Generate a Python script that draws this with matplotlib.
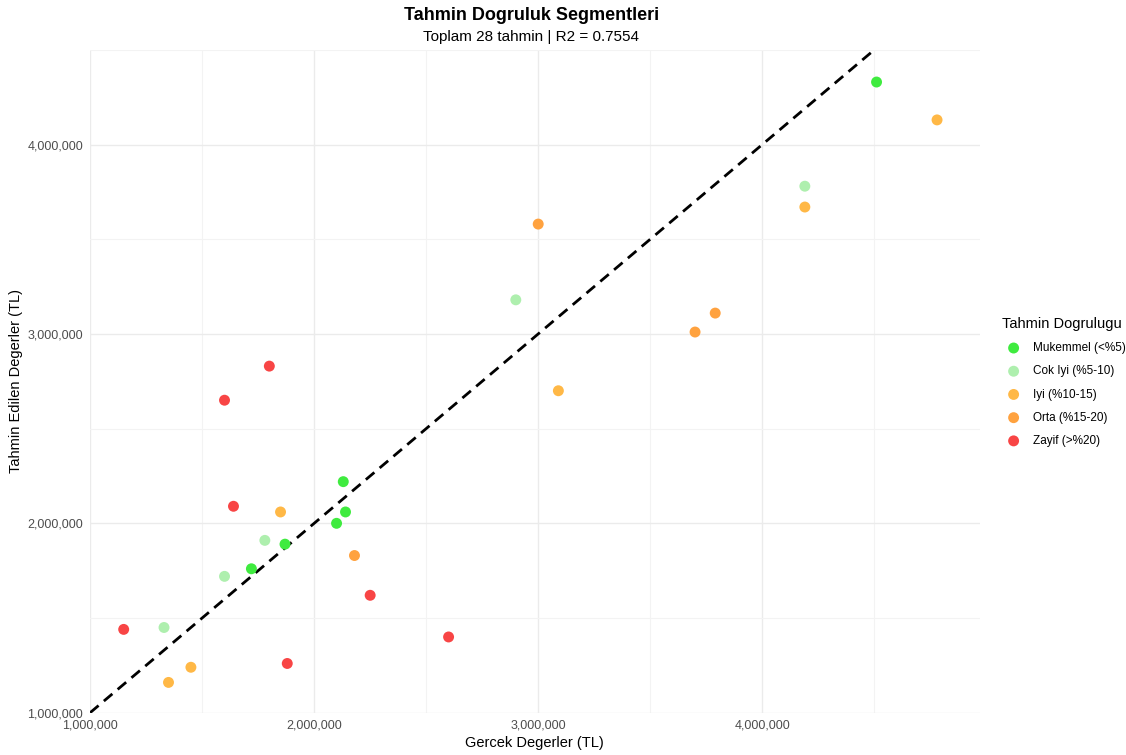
import matplotlib.pyplot as plt
from matplotlib.ticker import FuncFormatter, MultipleLocator

plt.rcParams['font.family'] = ['Liberation Sans', 'DejaVu Sans']

# gercek (x) ve tahmin (y) degerleri, segmentlere gore
mukemmel_x = [4510000, 2130000, 2140000, 2100000, 1870000, 1720000]
mukemmel_y = [4330000, 2220000, 2060000, 2000000, 1890000, 1760000]

cok_iyi_x = [4190000, 2900000, 1780000, 1600000, 1330000]
cok_iyi_y = [3780000, 3180000, 1910000, 1720000, 1450000]

iyi_x = [4780000, 4190000, 3090000, 1850000, 1450000, 1350000]
iyi_y = [4130000, 3670000, 2700000, 2060000, 1240000, 1160000]

orta_x = [3000000, 3790000, 3700000, 2180000]
orta_y = [3580000, 3110000, 3010000, 1830000]

zayif_x = [1800000, 1600000, 1640000, 1150000, 2250000, 2600000, 1880000]
zayif_y = [2830000, 2650000, 2090000, 1440000, 1620000, 1400000, 1260000]

segments = [
    ("Mukemmel (<%5)", mukemmel_x, mukemmel_y, "#3FEB3F"),
    ("Cok Iyi (%5-10)", cok_iyi_x, cok_iyi_y, "#AEEFAE"),
    ("Iyi (%10-15)", iyi_x, iyi_y, "#FFB846"),
    ("Orta (%15-20)", orta_x, orta_y, "#FFA23F"),
    ("Zayif (>%20)", zayif_x, zayif_y, "#F84545"),
]

fig = plt.figure(figsize=(11.26, 7.55), dpi=100)
ax = fig.add_axes([0.080, 0.056, 0.790, 0.878])

xmin, xmax = 1000000, 4970000
ymin, ymax = 1000000, 4500000

for label, xs, ys, col in segments:
    ax.scatter(xs, ys, s=62, color=col, label=label, edgecolors='none', zorder=3)

ax.plot([ymin, ymax], [ymin, ymax], color='black', linestyle=(0, (4, 2.5)), linewidth=2, zorder=2)

ax.set_xlim(xmin, xmax)
ax.set_ylim(ymin, ymax)

ax.xaxis.set_major_locator(MultipleLocator(1000000))
ax.yaxis.set_major_locator(MultipleLocator(1000000))
ax.xaxis.set_minor_locator(MultipleLocator(500000))
ax.yaxis.set_minor_locator(MultipleLocator(500000))
fmt = FuncFormatter(lambda v, p: f"{int(v):,}")
ax.xaxis.set_major_formatter(fmt)
ax.yaxis.set_major_formatter(fmt)

ax.grid(which='major', color='#ebebeb', linewidth=1.0)
ax.grid(which='minor', color='#f3f3f3', linewidth=0.8)
ax.set_axisbelow(True)
for sp in ax.spines.values():
    sp.set_visible(False)
ax.tick_params(which='both', length=0, labelsize=9, labelcolor='#4d4d4d')
ax.tick_params(axis='x', pad=5)
ax.tick_params(axis='y', pad=5)

ax.set_xlabel("Gercek Degerler (TL)", fontsize=10.5, labelpad=3)
ax.set_ylabel("Tahmin Edilen Degerler (TL)", fontsize=10.5, labelpad=3)

fig.text(0.472, 0.980, "Tahmin Dogruluk Segmentleri", ha='center', va='center',
         fontsize=13, fontweight='bold')
fig.text(0.472, 0.951, "Toplam 28 tahmin | R2 = 0.7554", ha='center', va='center',
         fontsize=11)

leg = ax.legend(loc='center left', bbox_to_anchor=(1.013, 0.499), frameon=False,
                title="Tahmin Dogrulugu", fontsize=8.5, title_fontsize=10.5,
                alignment='left', handletextpad=0.6, labelspacing=0.95,
                markerscale=1.0)

fig.savefig("out.png", dpi=100, facecolor='white')
